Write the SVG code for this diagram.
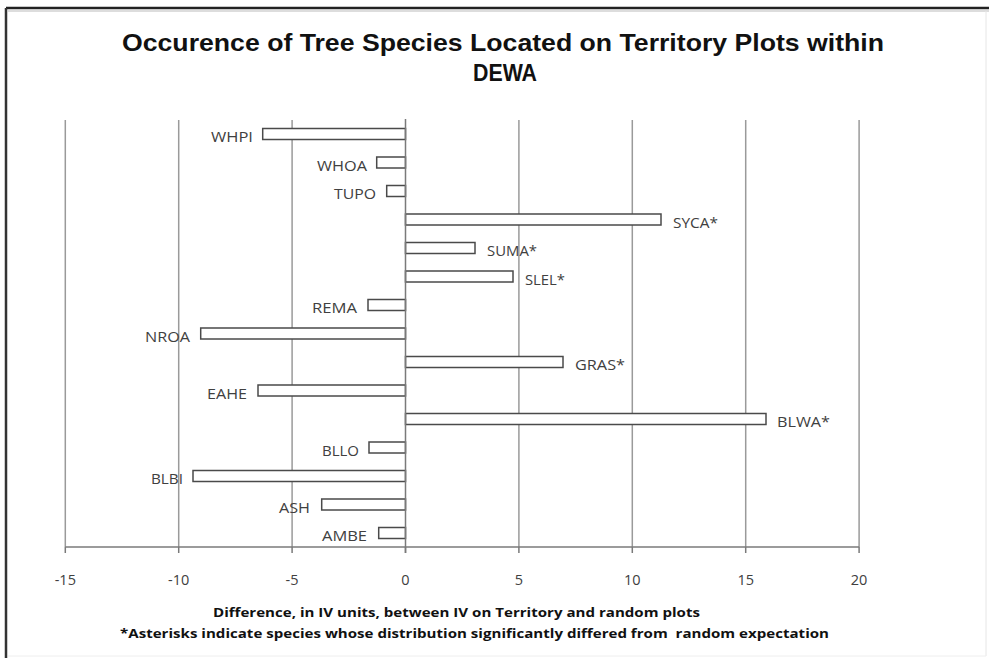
<svg xmlns="http://www.w3.org/2000/svg" width="989" height="658" viewBox="0 0 989 658">
<style>
.grid{stroke:#9a9a9a;stroke-width:1.5;fill:none}
.axis{stroke:#7a7a7a;stroke-width:1.5;fill:none}
.bar{fill:#ffffff;stroke:#4a4a4a;stroke-width:1.5}
.lbl{font-family:"Open Sans","Liberation Sans",sans-serif;font-size:14px;fill:#404040}
.tick{font-family:"Open Sans","Liberation Sans",sans-serif;font-size:14.5px;fill:#404040;text-anchor:middle}
.title{font-family:"Liberation Sans",Arial,sans-serif;font-size:24px;font-weight:bold;fill:#111;text-anchor:middle}
.note{font-family:"Open Sans","Liberation Sans",sans-serif;font-size:13px;font-weight:bold;fill:#111;white-space:pre}
</style>
<rect x="0" y="0" width="989" height="658" fill="#ffffff"/>
<g id="frame">
<line x1="6" y1="8" x2="989" y2="8" stroke="#222" stroke-width="2.5"/>
<line x1="6" y1="8" x2="6" y2="658" stroke="#333" stroke-width="2.5"/>
<line x1="8" y1="11" x2="989" y2="11" stroke="#ddd" stroke-width="2"/>
<line x1="986" y1="11" x2="986" y2="656" stroke="#e6e6e6" stroke-width="1"/>
<line x1="8" y1="656" x2="986" y2="656" stroke="#eeeeee" stroke-width="1"/>
</g>
<g id="title">
<text class="title" x="503" y="51" textLength="762" lengthAdjust="spacingAndGlyphs">Occurence of Tree Species Located on Territory Plots within</text>
<text class="title" x="505" y="81" textLength="64" lengthAdjust="spacingAndGlyphs">DEWA</text>
</g>
<g id="gridlines">
<line class="grid" x1="65.3" y1="120" x2="65.3" y2="547"/>
<line class="grid" x1="178.7" y1="120" x2="178.7" y2="547"/>
<line class="grid" x1="292.1" y1="120" x2="292.1" y2="547"/>
<line class="grid" x1="518.9" y1="120" x2="518.9" y2="547"/>
<line class="grid" x1="632.3" y1="120" x2="632.3" y2="547"/>
<line class="grid" x1="745.7" y1="120" x2="745.7" y2="547"/>
<line class="grid" x1="859.1" y1="120" x2="859.1" y2="547"/>
</g>
<g id="x-axis">
<line class="axis" x1="65.3" y1="547" x2="859.1" y2="547"/>
<line class="axis" x1="65.3" y1="547" x2="65.3" y2="553"/>
<line class="axis" x1="178.7" y1="547" x2="178.7" y2="553"/>
<line class="axis" x1="292.1" y1="547" x2="292.1" y2="553"/>
<line class="axis" x1="405.5" y1="547" x2="405.5" y2="553"/>
<line class="axis" x1="518.9" y1="547" x2="518.9" y2="553"/>
<line class="axis" x1="632.3" y1="547" x2="632.3" y2="553"/>
<line class="axis" x1="745.7" y1="547" x2="745.7" y2="553"/>
<line class="axis" x1="859.1" y1="547" x2="859.1" y2="553"/>
<text class="tick" x="65.3" y="585">-15</text>
<text class="tick" x="178.7" y="585">-10</text>
<text class="tick" x="292.1" y="585">-5</text>
<text class="tick" x="405.5" y="585">0</text>
<text class="tick" x="518.9" y="585">5</text>
<text class="tick" x="632.3" y="585">10</text>
<text class="tick" x="745.7" y="585">15</text>
<text class="tick" x="859.1" y="585">20</text>
</g>
<g id="bars">
<g id="WHPI"><rect class="bar" x="262.7" y="128.5" width="142.8" height="11"/><text class="lbl" x="253" y="142" text-anchor="end" textLength="42" lengthAdjust="spacingAndGlyphs">WHPI</text></g>
<g id="WHOA"><rect class="bar" x="376.7" y="157" width="28.8" height="11"/><text class="lbl" x="367" y="170.5" text-anchor="end" textLength="50" lengthAdjust="spacingAndGlyphs">WHOA</text></g>
<g id="TUPO"><rect class="bar" x="386.7" y="185.5" width="18.8" height="11"/><text class="lbl" x="376" y="199" text-anchor="end" textLength="42" lengthAdjust="spacingAndGlyphs">TUPO</text></g>
<g id="SYCA"><rect class="bar" x="405.5" y="214" width="255.5" height="11"/><text class="lbl" x="673" y="227.5" textLength="45" lengthAdjust="spacingAndGlyphs">SYCA*</text></g>
<g id="SUMA"><rect class="bar" x="405.5" y="242.5" width="69.5" height="11"/><text class="lbl" x="487" y="256" textLength="50" lengthAdjust="spacingAndGlyphs">SUMA*</text></g>
<g id="SLEL"><rect class="bar" x="405.5" y="271" width="107.5" height="11"/><text class="lbl" x="525" y="284.5" textLength="40" lengthAdjust="spacingAndGlyphs">SLEL*</text></g>
<g id="REMA"><rect class="bar" x="368" y="299.5" width="37.5" height="11"/><text class="lbl" x="357" y="313" text-anchor="end" textLength="45" lengthAdjust="spacingAndGlyphs">REMA</text></g>
<g id="NROA"><rect class="bar" x="200.7" y="328" width="204.8" height="11"/><text class="lbl" x="190" y="341.5" text-anchor="end" textLength="45" lengthAdjust="spacingAndGlyphs">NROA</text></g>
<g id="GRAS"><rect class="bar" x="405.5" y="356.5" width="157.5" height="11"/><text class="lbl" x="575" y="370" textLength="50" lengthAdjust="spacingAndGlyphs">GRAS*</text></g>
<g id="EAHE"><rect class="bar" x="258" y="385" width="147.5" height="11"/><text class="lbl" x="247" y="398.5" text-anchor="end" textLength="40" lengthAdjust="spacingAndGlyphs">EAHE</text></g>
<g id="BLWA"><rect class="bar" x="405.5" y="413.5" width="360.5" height="11"/><text class="lbl" x="777" y="427" textLength="53" lengthAdjust="spacingAndGlyphs">BLWA*</text></g>
<g id="BLLO"><rect class="bar" x="369" y="442" width="36.5" height="11"/><text class="lbl" x="359" y="455.5" text-anchor="end" textLength="37" lengthAdjust="spacingAndGlyphs">BLLO</text></g>
<g id="BLBI"><rect class="bar" x="193" y="470.5" width="212.5" height="11"/><text class="lbl" x="183" y="484" text-anchor="end" textLength="32" lengthAdjust="spacingAndGlyphs">BLBI</text></g>
<g id="ASH"><rect class="bar" x="321.7" y="499" width="83.8" height="11"/><text class="lbl" x="310" y="512.5" text-anchor="end" textLength="31" lengthAdjust="spacingAndGlyphs">ASH</text></g>
<g id="AMBE"><rect class="bar" x="378.7" y="527.5" width="26.8" height="11"/><text class="lbl" x="367" y="541" text-anchor="end" textLength="45" lengthAdjust="spacingAndGlyphs">AMBE</text></g>
</g>
<g id="zero-axis">
<line class="axis" x1="405.5" y1="119" x2="405.5" y2="553"/>
</g>
<g id="captions">
<text class="note" x="213" y="617" textLength="487" lengthAdjust="spacingAndGlyphs">Difference, in IV units, between IV on Territory and random plots</text>
<text class="note" x="120" y="638" textLength="709" lengthAdjust="spacingAndGlyphs">*Asterisks indicate species whose distribution significantly differed from  random expectation</text>
</g>
</svg>
